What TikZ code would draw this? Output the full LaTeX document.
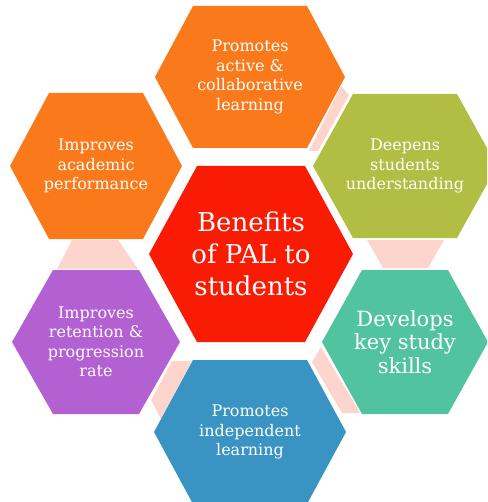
\documentclass[tikz,border=0pt]{standalone}
\usepackage{fontspec}
\setmainfont{DejaVu Serif}
\definecolor{hexorange}{HTML}{FA7A1B}
\definecolor{hexgreen}{HTML}{B2BE43}
\definecolor{hexred}{HTML}{F91B03}
\definecolor{hexpurple}{HTML}{B260D2}
\definecolor{hexteal}{HTML}{51C49F}
\definecolor{hexblue}{HTML}{3A94C3}
\definecolor{hexpink}{HTML}{FDD5CC}
\newcommand\hexshape[7]{%
  \fill[#7] ({#2-#5},{#3-#6}) -- ({#2+#5},{#3-#6}) -- ({#2+#4},#3) -- ({#2+#5},{#3+#6}) -- ({#2-#5},{#3+#6}) -- ({#2-#4},#3) -- cycle;
  \coordinate (#1) at (#2,#3);}
\tikzset{
  txt/.style={text=white, align=center, inner sep=0pt, font=\fontsize{16}{19.5}\selectfont},
  bigtxt/.style={text=white, align=center, inner sep=0pt, font=\fontsize{26}{32}\selectfont},
  midtxt/.style={text=white, align=center, inner sep=0pt, font=\fontsize{21}{23.5}\selectfont},
  band/.style={fill=hexpink}
}
\begin{document}
\begin{tikzpicture}[x=1pt,y=-1pt]
\useasboundingbox (0,0) rectangle (487,502);
\clip (0,0) rectangle (487,502);
% pink connectors
\fill[band] (341,86) -- (349,95) -- (318,151) -- (309,151) -- cycle;
\fill[band] (72,240) -- (118,240) -- (138,269) -- (57,269) -- cycle;
\fill[band] (367,240) -- (444,240) -- (428,268) -- (383,268) -- cycle;
\fill[band] (172,361) -- (192,361) -- (161,419) -- (151,400) -- cycle;
\fill[band] (321,347) -- (360,413) -- (342,413) -- (312,362) -- cycle;
% hexagons
\hexshape{ctop}{250}{77}{95}{57}{71}{hexorange}
\hexshape{clt}{96}{166}{86}{47}{73}{hexorange}
\hexshape{crt}{405}{166}{92}{52}{72}{hexgreen}
\hexshape{cmid}{251}{254}{102}{54}{88}{hexred}
\hexshape{clb}{96}{342}{84}{43}{72}{hexpurple}
\hexshape{crb}{405}{342}{83}{43}{72}{hexteal}
\hexshape{cbot}{250}{432}{96}{57}{72}{hexblue}
% texts
\node[txt] (ttop) at (ctop) {Promotes\\active \&\\collaborative\\learning};
\node[txt] (tlt) at (clt) {Improves\\academic\\performance};
\node[txt] (trt) at (crt) {Deepens\\students\\understanding};
\node[bigtxt] (tmid) at (cmid) {Benefits\\of PAL to\\students};
\node[txt] (tlb) at (clb) {Improves\\retention \&\\progression\\rate};
\node[midtxt] (trb) at (crb) {Develops\\key study\\skills};
\node[txt] (tbot) at (cbot) {Promotes\\independent\\learning};
\end{tikzpicture}
\end{document}
